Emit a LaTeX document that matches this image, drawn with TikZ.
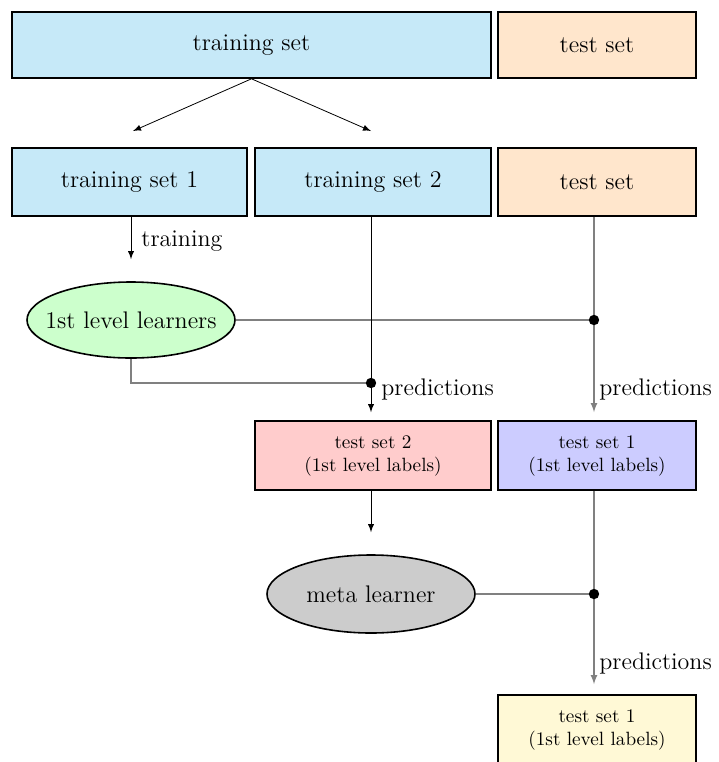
\documentclass[tikz,border=0pt]{standalone}
\usetikzlibrary{shapes.geometric}

\newcommand{\mainfont}{\fontsize{12}{14.4}\selectfont}
\newcommand{\labfont}{\fontsize{9.6}{11.5}\selectfont}

\definecolor{trainblue}{RGB}{198,233,248}
\definecolor{testorange}{RGB}{255,230,204}
\definecolor{lvlgreen}{RGB}{204,255,204}
\definecolor{predred}{RGB}{255,204,204}
\definecolor{predblue}{RGB}{204,204,255}
\definecolor{metagray}{RGB}{204,204,204}
\definecolor{finalyellow}{RGB}{255,249,214}

\tikzset{
	set/.style={draw, thick, font=\mainfont, inner sep=0pt},
	lab/.style={draw, thick, font=\labfont, align=center, inner sep=0pt},
	learner/.style={draw, thick, ellipse, font=\mainfont, inner xsep=-7pt, inner ysep=0pt, minimum width=104pt},
	feed/.style={gray, semithick},
	txt/.style={font=\mainfont, anchor=west, inner sep=0pt}
}

\begin{document}
\begin{tikzpicture}[x=0.5pt, y=-0.5pt, >=latex]
	\useasboundingbox (0,0) rectangle (719,762);

	\node[set, fill=trainblue, minimum width=239.5pt, minimum height=33pt] (train) at (251.5,45) {training set};
	\node[set, fill=testorange, minimum width=99pt, minimum height=33pt] (test) at (597,45) {test set};

	\node[set, fill=trainblue, minimum width=117.5pt, minimum height=34pt] (train1) at (129.5,182) {training set 1};
	\node[set, fill=trainblue, minimum width=118pt, minimum height=34pt] (train2) at (373,182) {training set 2};
	\node[set, fill=testorange, minimum width=99pt, minimum height=34pt] (test0) at (597,182) {test set};

	\node[learner, fill=lvlgreen, minimum height=38pt] (first) at (131,320) {1st level learners};

	\node[lab, fill=predred, minimum width=118pt, minimum height=34.5pt] (pred2) at (373,455.5) {test set 2\\(1st level labels)};
	\node[lab, fill=predblue, minimum width=99pt, minimum height=34.5pt] (pred1) at (597,455.5) {test set 1\\(1st level labels)};

	\node[learner, fill=metagray, minimum height=39pt] (meta) at (371,594) {meta learner};

	\node[lab, fill=finalyellow, minimum width=99pt, minimum height=34.5pt] (final) at (597,729.5) {test set 1\\(1st level labels)};

	\coordinate (s1) at (133,131);
	\coordinate (s2) at (371,131);
	\coordinate (j1) at (594,320);
	\coordinate (j2) at (371,383);
	\coordinate (j3) at (594,594);

	% splitting the training data
	\path [->] (train.south) edge (s1);
	\path [->] (train.south) edge (s2);
	\path [->] (train1.south -| first) edge[shorten >=11pt] (first.north);

	% first level predictions
	\draw [feed] (first.east) -- (j1);
	\draw [feed] (first.south) |- (j2);
	\path [->] (train2.south -| j2) edge[shorten >=4pt] (pred2.north -| j2);
	\path [->, feed] (test0.south -| j1) edge[shorten >=4pt] (pred1.north -| j1);

	% meta level
	\path [->] (pred2.south -| meta) edge[shorten >=11pt] (meta.north);
	\draw [feed] (meta.east) -- (j3);
	\draw [feed] (pred1.south -| j3) -- (j3);
	\path [->, feed] (j3) edge[shorten >=5pt] (final.north -| j3);

	\fill (j1) circle (2.6pt);
	\fill (j2) circle (2.6pt);
	\fill (j3) circle (2.6pt);

	\node[txt] (lt) at (141,241) {training};
	\node[txt] (lp1) at (381,389) {predictions};
	\node[txt] (lp2) at (599,389) {predictions};
	\node[txt] (lp3) at (599,663) {predictions};
\end{tikzpicture}
\end{document}
